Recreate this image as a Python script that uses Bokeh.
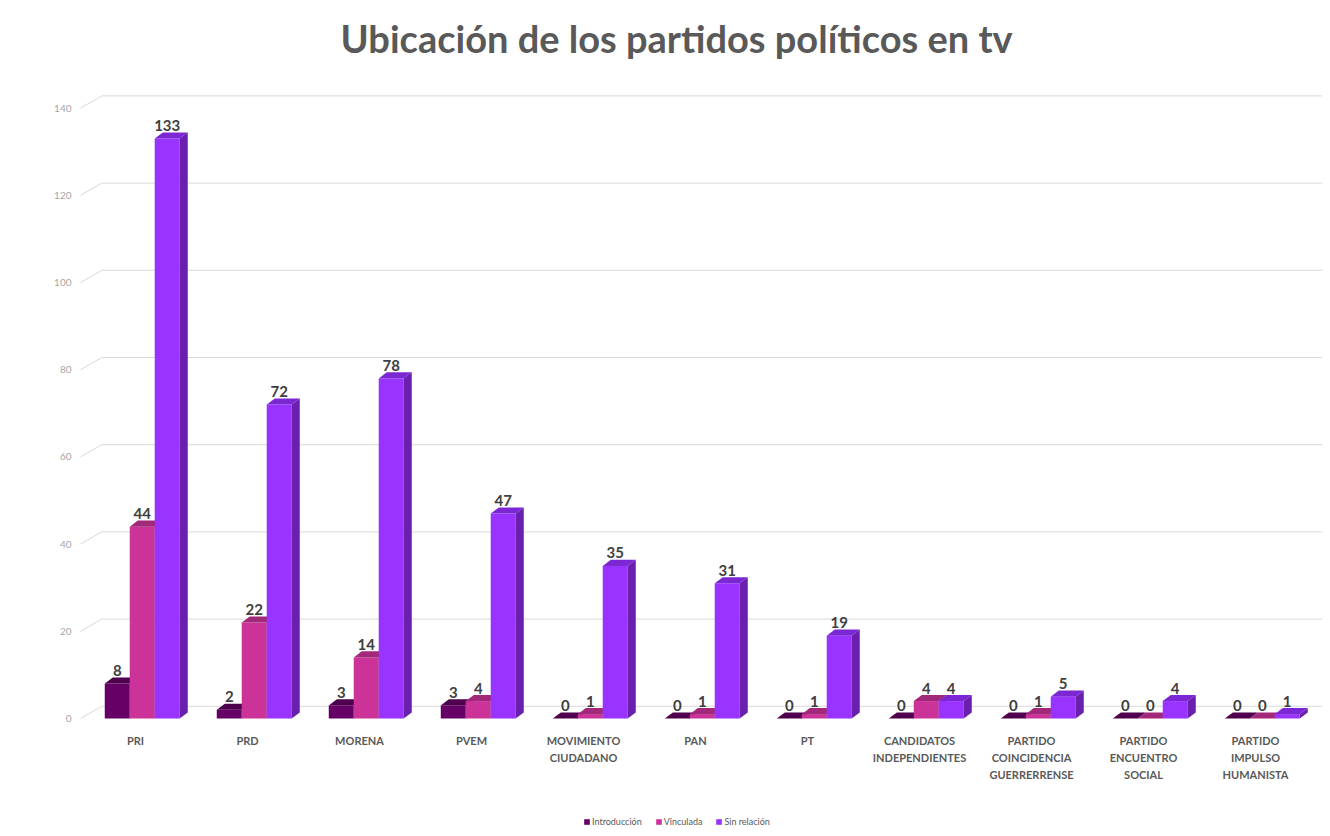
import numpy as np
from bokeh.plotting import figure
from bokeh.models import Legend, LegendItem, FixedTicker, Range1d, ColumnDataSource, Label
from bokeh.embed import file_html
from bokeh.resources import INLINE
from bokeh.core.properties import value

# ---------------- data ----------------
categories = ["PRI", "PRD", "MORENA", "PVEM", "MOVIMIENTO\nCIUDADANO", "PAN", "PT",
              "CANDIDATOS\nINDEPENDIENTES", "PARTIDO\nCOINCIDENCIA\nGUERRERRENSE",
              "PARTIDO\nENCUENTRO\nSOCIAL", "PARTIDO\nIMPULSO\nHUMANISTA"]
introduccion = [8, 2, 3, 3, 0, 0, 0, 0, 0, 0, 0]
vinculada = [44, 22, 14, 4, 1, 1, 1, 4, 1, 0, 0]
sin_relacion = [133, 72, 78, 47, 35, 31, 19, 4, 5, 4, 1]
series_names = ["Introducción", "Vinculada", "Sin relación"]
y_ticks = [0, 20, 40, 60, 80, 100, 120, 140]
title_text = "Ubicación de los partidos políticos en tv"

# ---------------- styles ----------------
front_colors = ["#660066", "#CC3399", "#9933FF"]
top_colors = ["#4E004E", "#A2287A", "#7B28D4"]
side_colors = ["#470047", "#98246F", "#6A1FAE"]

bar_w = 0.223        # width of one bar in category units
group_shift = 0.06   # bars drawn slightly right of the label centre
dx = 0.072           # depth offset of bar faces (x units)
dy = 1.4             # depth offset of bar faces (y units)
wall_dx = 0.19       # back wall offset (x)
wall_dy = 2.8        # back wall offset (y)
x_start, x_end = -0.509, 10.598
y_start, y_end = -25.23, 164.68

p = figure(width=1322, height=828, output_backend="svg", toolbar_location=None,
           x_range=Range1d(x_start, x_end), y_range=Range1d(y_start, y_end),
           x_axis_location=None,
           min_border_left=78, min_border_right=0, min_border_top=0, min_border_bottom=0)
p.outline_line_color = None
p.background_fill_color = "white"
p.border_fill_color = "white"
p.xgrid.grid_line_color = None
p.ygrid.grid_line_color = None

# title
p.add_layout(Label(x=1.83, y=156.0, text=title_text, text_font="Lato", text_font_size="38px",
                   text_font_style="bold", text_color="#595959", text_baseline="alphabetic"))

# back-wall gridlines and diagonal tick connectors
yt = np.array(y_ticks, dtype=float)
wall_x0 = x_start + 0.018 + wall_dx
p.segment(x0=[wall_x0] * len(yt), y0=yt + wall_dy, x1=[x_end] * len(yt), y1=yt + wall_dy,
          line_color="#D9D9D9", line_width=1)
p.segment(x0=[x_start + 0.018] * len(yt), y0=yt, x1=[wall_x0] * len(yt), y1=yt + wall_dy,
          line_color="#D9D9D9", line_width=1)

# bars with pseudo 3D faces
series = [introduccion, vinculada, sin_relacion]
legend_items = []
for k, vals in enumerate(series):
    vals = np.array(vals, dtype=float)
    centers = np.arange(len(categories)) + group_shift + (k - 1) * bar_w
    x0 = centers - bar_w / 2
    x1 = centers + bar_w / 2
    front = p.vbar(x=centers, width=bar_w, top=vals, bottom=0,
                   fill_color=front_colors[k], line_color=None)
    top_xs = [[a, b, b + dx, a + dx] for a, b in zip(x0, x1)]
    top_ys = [[v, v, v + dy, v + dy] for v in vals]
    p.patches(top_xs, top_ys, fill_color=top_colors[k], line_color=None)
    side_xs = [[b, b + dx, b + dx, b] for b in x1]
    side_ys = [[0, dy, v + dy, v] for v in vals]
    p.patches(side_xs, side_ys, fill_color=side_colors[k], line_color=None)
    legend_items.append(LegendItem(label=series_names[k], renderers=[front]))
    # value labels
    src = ColumnDataSource(dict(x=centers, y=vals + dy + 0.3, t=[str(int(v)) for v in vals]))
    p.text(x="x", y="y", text="t", source=src, text_align="center", text_baseline="bottom",
           text_font=value("Lato"), text_font_size="15px", text_font_style="bold",
           text_color="#404040")

# category labels under the bars
cat_src = ColumnDataSource(dict(x=list(range(len(categories))),
                                y=[-3.5] * len(categories), t=categories))
p.text(x="x", y="y", text="t", source=cat_src, text_align="center", text_baseline="top",
       text_font=value("Lato"), text_font_size="11px", text_font_style="bold",
       text_color="#595959", text_line_height=1.32)

# y axis
p.yaxis.ticker = FixedTicker(ticks=y_ticks)
p.yaxis.axis_line_color = None
p.yaxis.major_tick_line_color = None
p.yaxis.minor_tick_line_color = None
p.yaxis.major_label_text_color = "#A6A6A6"
p.yaxis.major_label_text_font = "Lato"
p.yaxis.major_label_text_font_size = "10px"
p.yaxis.major_label_standoff = 1

legend = Legend(items=legend_items, orientation="horizontal", location=(505, 1),
                glyph_width=7, glyph_height=7, label_text_font_size="9px",
                label_text_font="Lato", label_text_color="#595959", label_standoff=2,
                spacing=13, padding=0, margin=0, border_line_color=None,
                background_fill_alpha=0, label_height=12)
p.add_layout(legend)

open("out.html", "w").write(file_html(p, INLINE))
